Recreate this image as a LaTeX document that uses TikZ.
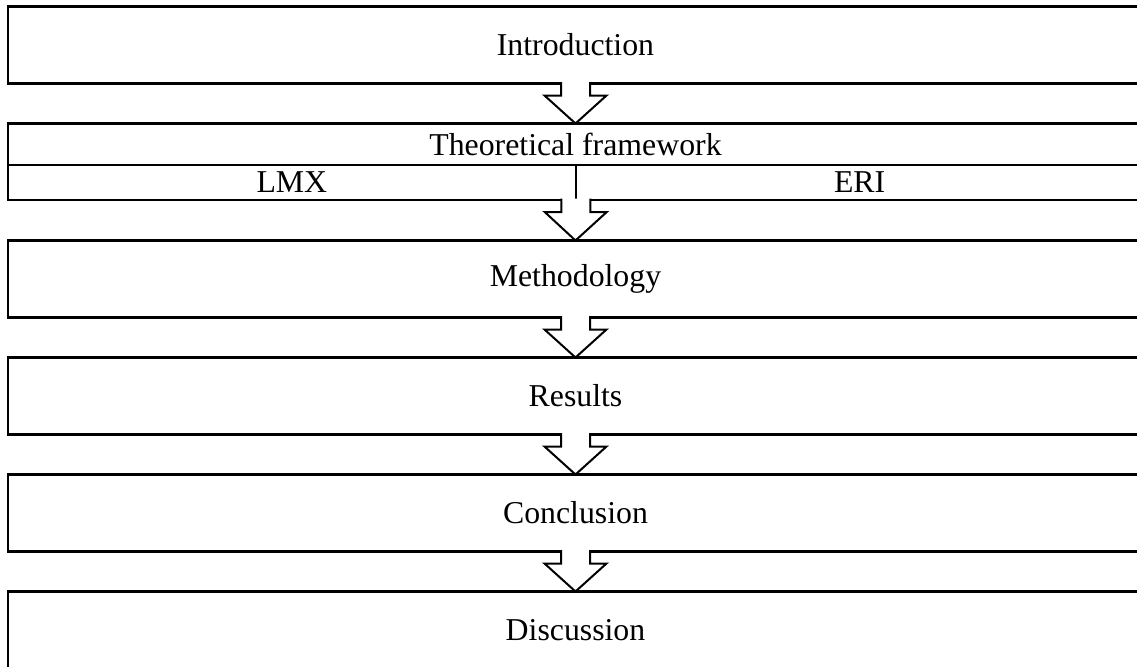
\documentclass[tikz,border=0pt]{standalone}
\usepackage{fontspec}
\setmainfont{Liberation Serif}
\usetikzlibrary{calc}

\tikzset{
  secbox/.style={draw, line width=1.2pt, outer sep=0pt, inner sep=0pt,
    minimum width=567.5pt, minimum height=38.5pt,
    font=\fontsize{15.9}{19}\selectfont},
  halfbox/.style={secbox, minimum width=283.875pt, minimum height=17.5pt},
  flowarrow/.style={line width=1pt, fill=white, line join=miter}
}
% hollow block arrow between two anchors
\newcommand{\blockarrow}[2]{%
  \filldraw[flowarrow] ($(#1)+(-14.5,-1.4)$) -- ++(0,13.4) -- ++(-16.5,0) -- (#2)
    -- ($(#1)+(31,12)$) -- ++(-16.5,0) -- ($(#1)+(14.5,-1.4)$);}

\begin{document}
\begin{tikzpicture}[x=0.5pt,y=0.5pt,yscale=-1,xscale=1]
\clip (0,0) rectangle (1137,666);

% Boxes
\node[secbox] (intro) at (575.5,45) {Introduction};
\node[secbox, minimum height=20.75pt] (theory) at (575.5,144.25) {Theoretical framework};
\node[halfbox] (lmx) at (291.875,182.5) {LMX};
\node[halfbox] (eri) at (859.625,182.5) {ERI};
\node[secbox] (method) at (575.5,279) {Methodology};
\node[secbox] (results) at (575.5,396) {Results};
\node[secbox] (concl) at (575.5,513) {Conclusion};
\node[secbox] (disc) at (575.5,630) {Discussion};

% Arrows
\blockarrow{intro.south}{theory.north}
\blockarrow{lmx.south east}{method.north}
\blockarrow{method.south}{results.north}
\blockarrow{results.south}{concl.north}
\blockarrow{concl.south}{disc.north}

\end{tikzpicture}
\end{document}
